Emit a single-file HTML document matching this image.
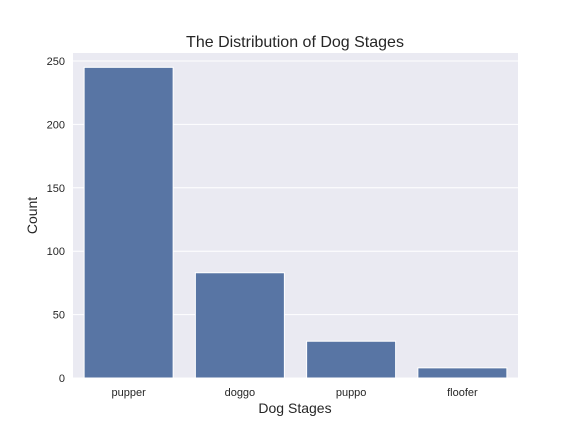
<!DOCTYPE html>
<html><head><meta charset="utf-8"><style>
body{margin:0;background:#fff;}
svg{display:block;font-family:"Liberation Sans",Arial,sans-serif;}
</style></head><body>
<svg id="chart" width="576" height="432">
<rect x="73" y="53" width="445" height="325" fill="#eaeaf2"/>
<g id="grid"></g><g id="bars"></g><g id="ticks"></g>
<text x="295" y="47" text-anchor="middle" font-size="16" fill="#262626">The Distribution of Dog Stages</text>
<text x="295" y="413" text-anchor="middle" font-size="14" fill="#262626">Dog Stages</text>
<text transform="translate(37,215.5) rotate(-90)" text-anchor="middle" font-size="14" fill="#262626">Count</text>
</svg>
<script>
const categories = ["pupper","doggo","puppo","floofer"];
const counts = [245, 83, 29, 8];
const yTicks = [0, 50, 100, 150, 200, 250];
const L=73,R=518,T=53,B=378,yMax=256.3;
const ns="http://www.w3.org/2000/svg";
function y(v){return B-(v/yMax)*(B-T);}
const band=(R-L)/categories.length;
function xc(i){return L+band*(i+0.5);}
function mk(t,a,p){const e=document.createElementNS(ns,t);for(const k in a)e.setAttribute(k,a[k]);document.getElementById(p).appendChild(e);return e;}
yTicks.forEach(v=>{
 const g=mk('line',{x1:L,x2:R,y1:y(v),y2:y(v),stroke:'#fff','stroke-width':1},'grid');
 
 
 const t=mk('text',{x:L-8,y:y(v)+4,'text-anchor':'end','font-size':11,fill:'#262626'},'ticks');
 t.textContent=v;
 
 
});
categories.forEach((c,i)=>{
 const w=band*0.8;
 const r=mk('rect',{x:xc(i)-w/2,y:y(counts[i]),width:w,height:B-y(counts[i]),fill:'#5875a4',stroke:'#fff','stroke-width':1},'bars');
 
 
 const t=mk('text',{x:xc(i),y:B+18,'text-anchor':'middle','font-size':11,fill:'#262626'},'ticks');
 t.textContent=c;
 
 
});
</script>
</body></html>
